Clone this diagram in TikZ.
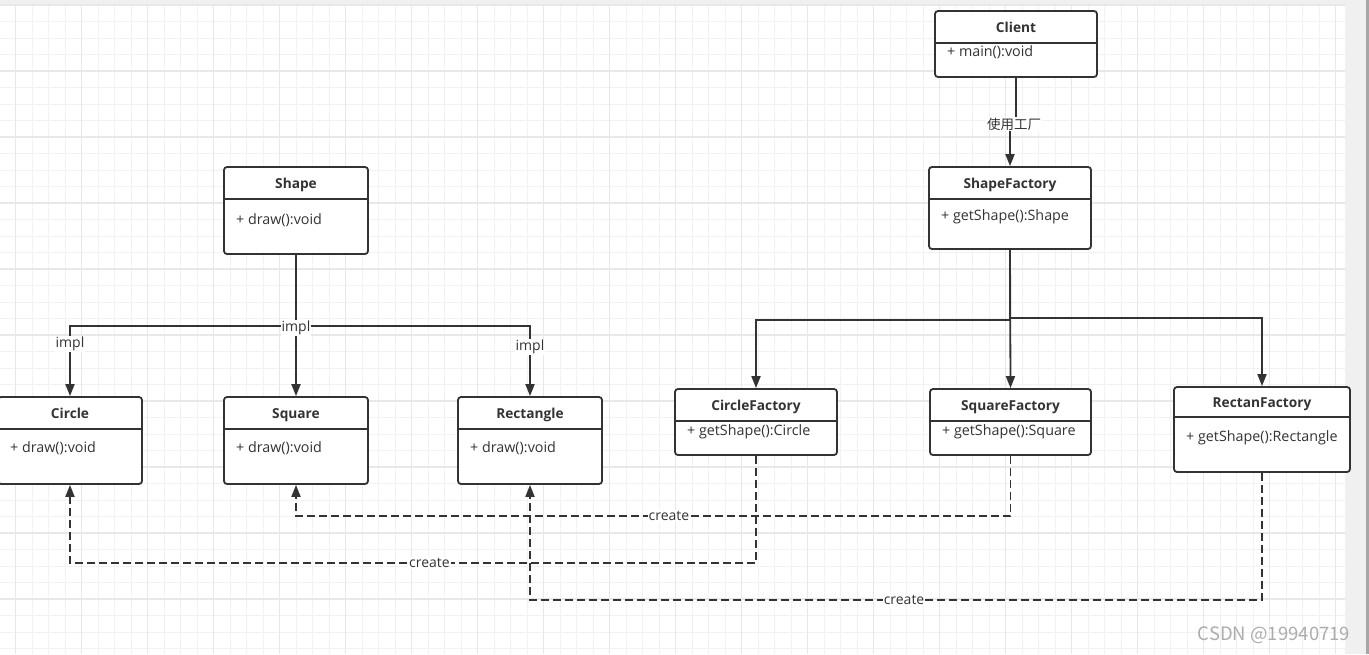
\documentclass[tikz,border=0pt]{standalone}
\usepackage{fontspec}
\setmainfont{Open Sans}
\newfontfamily\cjk{Noto Sans CJK SC}
\usetikzlibrary{arrows.meta}

\definecolor{linec}{HTML}{333333}
\definecolor{gridminor}{HTML}{F2F2F2}
\definecolor{gridmajor}{HTML}{E8E8E8}
\definecolor{panelgray}{HTML}{F0F0F0}

\tikzset{
  classbox/.style={draw=linec, line width=1.8pt, fill=white, rounded corners=3pt, inner sep=0pt},
  boxline/.style={draw=linec, line width=1.8pt},
  titletext/.style={font=\fontsize{13.7}{16}\selectfont\bfseries, text=linec, inner sep=0pt, text height=10pt, text depth=3pt},
  methodtext/.style={font=\fontsize{14.3}{16}\selectfont, text=linec, inner sep=0pt, anchor=west},
  conn/.style={draw=linec, line width=1.8pt, -{Triangle[length=12pt,width=9pt]}},
  createconn/.style={conn, dash pattern=on 8pt off 4pt},
  lbl/.style={font=\fontsize{14}{16}\selectfont, text=linec, fill=white, inner sep=1pt},
}

% name, left, top, right, bottom, divider, title, method, method y
\newcommand{\umlclass}[9]{%
  \node[classbox, minimum width={(#4-(#2))*1pt}, minimum height={(#5-(#3))*1pt}] (#1) at ({(#2+#4)/2},{(#3+#5)/2}) {};
  \draw[boxline] (#1.west |- 0,#6) -- (#1.east |- 0,#6);
  \node[titletext] (#1-title) at ({(#2+#4)/2},{(#3+#6)/2+1.5}) {#7};
  \node[methodtext] (#1-method) at ({#2+12},#9+1.5) {#8};
}

\begin{document}
\begin{tikzpicture}[x=1pt,y=-1pt]
  \useasboundingbox (0,0) rectangle (1369,654);
  \fill[white] (0,0) rectangle (1369,654);
  \fill[panelgray] (0,0) rectangle (1369,5);
  \fill[panelgray] (1345,0) rectangle (1369,654);
  \fill[gray!70] (1366,0) rectangle (1369,654);

  % grid
  \foreach \i in {0,...,81}
    \draw[gridminor, line width=1pt] ({-0.8+16.5*\i},5) -- ({-0.8+16.5*\i},654);
  \foreach \j in {0,...,39}
    \draw[gridminor, line width=1pt] (0,{5+16.5*\j}) -- (1345,{5+16.5*\j});
  \foreach \i in {0,...,20}
    \draw[gridmajor, line width=1.2pt] ({15.7+66*\i},5) -- ({15.7+66*\i},654);
  \foreach \j in {0,...,9}
    \draw[gridmajor, line width=1.2pt] (0,{5+66*\j}) -- (1345,{5+66*\j});

  % classes
  \umlclass{client}{935}{11}{1097}{77}{43}{Client}{+ main():void}{51}
  \umlclass{shapefactory}{929}{167}{1091}{249}{199}{ShapeFactory}{+ getShape():Shape}{215}
  \umlclass{shape}{224}{167}{368}{254}{199}{Shape}{+ draw():void}{219}
  \umlclass{circle}{-2}{397}{142}{484}{429}{Circle}{+ draw():void}{447}
  \umlclass{square}{224}{397}{368}{484}{429}{Square}{+ draw():void}{447}
  \umlclass{rectangle}{458}{397}{602}{484}{429}{Rectangle}{+ draw():void}{447}
  \umlclass{circlefactory}{675}{389}{837}{455}{421}{CircleFactory}{+ getShape():Circle}{430}
  \umlclass{squarefactory}{930}{389}{1091}{455}{421}{SquareFactory}{+ getShape():Square}{430}
  \umlclass{rectanfactory}{1174}{387}{1350}{472}{417}{RectanFactory}{+ getShape():Rectangle}{436}

  % client uses the factory
  \coordinate (usept) at (1014,124);
  \draw[conn] (client.south) -- (client.south |- usept) -- (shapefactory.north |- usept) -- (shapefactory.north);
  \node[lbl, font=\cjk\fontsize{13.5}{15}\selectfont] (use) at (usept) {使用工厂};

  % impl
  \coordinate (implrow) at (0,326);
  \draw[conn] (shape.south) -- (shape.south |- implrow) -- (circle.north |- implrow)
    -- node[lbl, pos=0.25] (impl-circle) {impl} (circle.north);
  \draw[conn] (shape.south) -- (shape.south |- implrow) -- (rectangle.north |- implrow)
    -- node[lbl, pos=0.3] (impl-rectangle) {impl} (rectangle.north);
  \draw[conn] (shape.south) -- node[lbl, pos=0.52] (impl-square) {impl} (square.north);

  % factory tree
  \draw[conn] (shapefactory.south) -- (shapefactory.south |- 0,320) -- (circlefactory.north |- 0,320) -- (circlefactory.north);
  \draw[conn] (shapefactory.south) -- (shapefactory.south |- 0,318) -- (rectanfactory.north |- 0,318) -- (rectanfactory.north);
  \draw[conn] (shapefactory.south) -- (squarefactory.north);

  % create
  \coordinate (sqrow) at (0,516);
  \coordinate (cirow) at (0,563);
  \coordinate (rerow) at (0,600);
  \draw[createconn] (squarefactory.south) -- (squarefactory.south |- sqrow)
    -- node[lbl, pos=0.478] (create-square) {create} (square.south |- sqrow) -- (square.south);
  \draw[createconn] (circlefactory.south) -- (circlefactory.south |- cirow)
    -- node[lbl, pos=0.476] (create-circle) {create} (circle.south |- cirow) -- (circle.south);
  \draw[createconn] (rectanfactory.south) -- (rectanfactory.south |- rerow)
    -- node[lbl, pos=0.489] (create-rectangle) {create} (rectangle.south |- rerow) -- (rectangle.south);

  \node[font=\cjk\fontsize{18.5}{20}\selectfont, text=gray!65, inner sep=0pt] (mark) at (1274,635) {CSDN @19940719};
\end{tikzpicture}
\end{document}
